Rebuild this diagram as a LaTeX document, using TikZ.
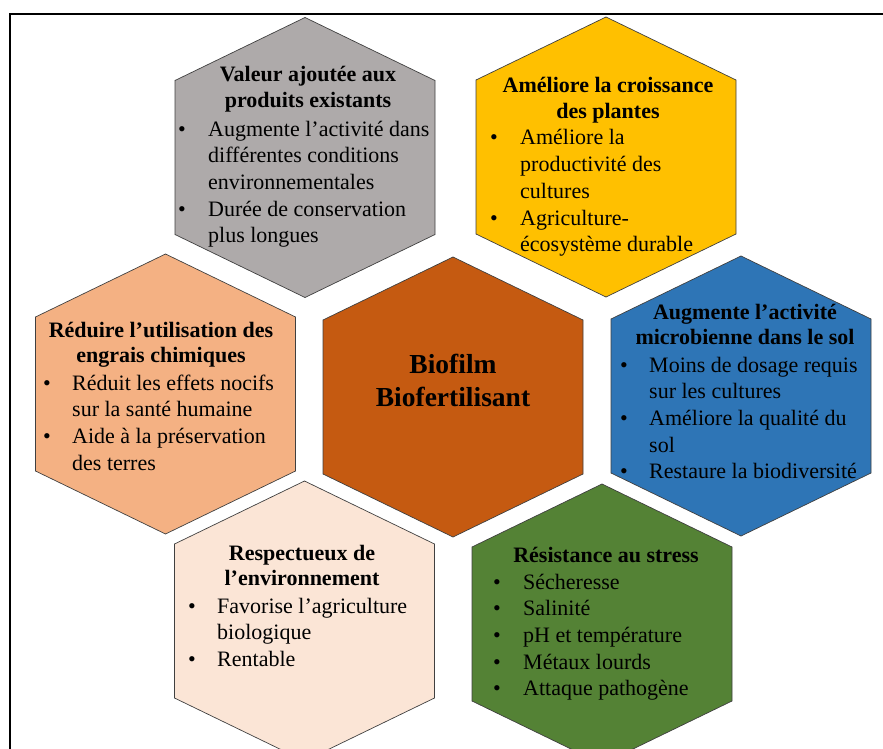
\documentclass[tikz,border=0pt]{standalone}
\usepackage{fontspec}
\setmainfont{Liberation Serif}

\definecolor{hgris}{HTML}{AEAAAA}
\definecolor{hjaune}{HTML}{FFC000}
\definecolor{hsaumon}{HTML}{F4B183}
\definecolor{hbrun}{HTML}{C55A11}
\definecolor{hbleu}{HTML}{2E75B6}
\definecolor{hpeche}{HTML}{FBE5D6}
\definecolor{hvert}{HTML}{548235}

\newcommand\lignes[1]{\begin{tabular}[t]{@{}c@{}}#1\end{tabular}}
\newcommand\puce{\textbullet}
\newenvironment{points}[1]{\begin{tabular}[t]{@{}p{#1}@{}l@{}}}{\end{tabular}}

\begin{document}
\begin{tikzpicture}[x=1pt, y=-1pt,
    hexa/.pic={\path[pic actions] (0,-140) -- (130,-77) -- (130,77) -- (0,140) -- (-130,77) -- (-130,-77) -- cycle;},
    alveole/.style={draw=black!75, line width=0.7pt},
    titre/.style={anchor=base, inner sep=0pt, font=\fontsize{22}{25.5}\selectfont\bfseries},
    liste/.style={anchor=base west, inner sep=0pt, font=\fontsize{22}{26.7}\selectfont}]
    \clip (0,0) rectangle (883,749);
    \draw[line width=2.5pt] (10,760) |- (900,13.8);

    % alveoles
    \pic[alveole, fill=hgris]   at (305,157.5) {hexa};
    \pic[alveole, fill=hjaune]  at (606,157)   {hexa};
    \pic[alveole, fill=hsaumon] at (165.5,394) {hexa};
    \pic[alveole, fill=hbrun]   at (453,397)   {hexa};
    \pic[alveole, fill=hbleu]   at (741,396)   {hexa};
    \pic[alveole, fill=hpeche]  at (304.5,621) {hexa};
    \pic[alveole, fill=hvert]   at (602,624)   {hexa};

    \node[titre, font=\fontsize{27.5}{33}\selectfont\bfseries] (centre) at (453,373) {\lignes{Biofilm\\Biofertilisant}};

    \node[titre] (gris-titre) at (308,82) {\lignes{Valeur ajoutée aux\\produits existants}};
    \node[liste] (gris-liste) at (178,136) {\begin{points}{30pt}
        \puce & Augmente l’activité dans\\
              & différentes conditions\\
              & environnementales\\
        \puce & Durée de conservation\\
              & plus longues
    \end{points}};

    \node[titre] (jaune-titre) at (608,93) {\lignes{Améliore la croissance\\des plantes}};
    \node[liste] (jaune-liste) at (490,145) {\begin{points}{30pt}
        \puce & Améliore la\\
              & productivité des\\
              & cultures\\
        \puce & Agriculture-\\
              & écosystème durable
    \end{points}};

    \node[titre] (saumon-titre) at (161,337) {\lignes{Réduire l’utilisation des\\engrais chimiques}};
    \node[liste] (saumon-liste) at (43,390) {\begin{points}{29pt}
        \puce & Réduit les effets nocifs\\
              & sur la santé humaine\\
        \puce & Aide à la préservation\\
              & des terres
    \end{points}};

    \node[titre] (bleu-titre) at (745,319) {\lignes{Augmente l’activité\\microbienne dans le sol}};
    \node[liste] (bleu-liste) at (620,372) {\begin{points}{29pt}
        \puce & Moins de dosage requis\\
              & sur les cultures\\
        \puce & Améliore la qualité du\\
              & sol\\
        \puce & Restaure la biodiversité
    \end{points}};

    \node[titre] (peche-titre) at (302,560) {\lignes{Respectueux de\\l’environnement}};
    \node[liste] (peche-liste) at (188,613) {\begin{points}{29pt}
        \puce & Favorise l’agriculture\\
              & biologique\\
        \puce & Rentable
    \end{points}};

    \node[titre] (vert-titre) at (606,562) {\lignes{Résistance au stress}};
    \node[liste] (vert-liste) at (493,589) {\begin{points}{30pt}
        \puce & Sécheresse\\
        \puce & Salinité\\
        \puce & pH et température\\
        \puce & Métaux lourds\\
        \puce & Attaque pathogène
    \end{points}};
\end{tikzpicture}
\end{document}
